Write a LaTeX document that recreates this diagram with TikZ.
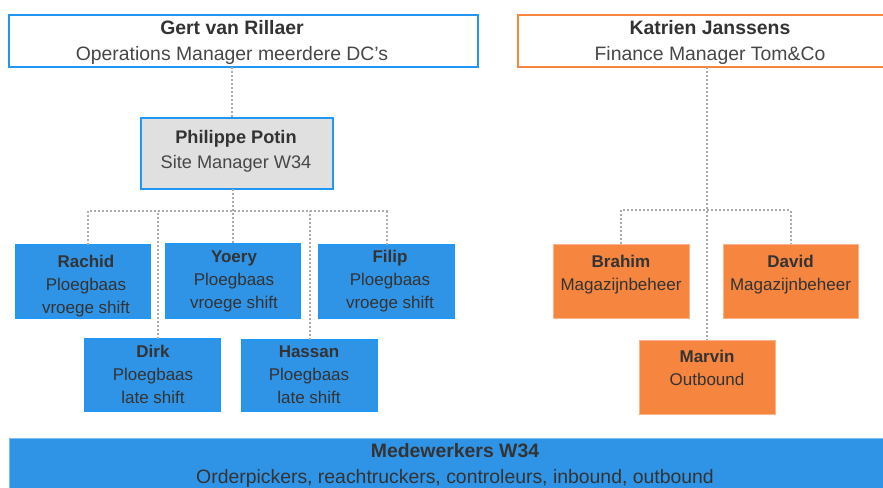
\documentclass[tikz,border=0pt]{standalone}
\usepackage{fontspec}
\setmainfont{Liberation Sans}

\definecolor{bluefill}{HTML}{3094E6}
\definecolor{blueline}{HTML}{2196F3}
\definecolor{orangefill}{HTML}{F5853F}
\definecolor{orangeedge}{HTML}{F9B48C}
\definecolor{greyfill}{HTML}{E0E0E0}
\definecolor{linkgrey}{HTML}{ABABAB}
\definecolor{ink}{HTML}{333333}
\definecolor{inksoft}{HTML}{474747}

\tikzset{
  card/.style={anchor=north west, inner sep=0pt, outer sep=0pt},
  headblue/.style={card, draw=blueline, line width=2pt, fill=white},
  headorange/.style={card, draw=orangefill, line width=2pt, fill=white},
  sitebox/.style={card, draw=blueline, line width=2pt, fill=greyfill},
  teambox/.style={card, draw=blueline, line width=1.2pt, fill=bluefill},
  stockbox/.style={card, draw=orangeedge, line width=0.8pt, fill=orangefill},
  staffbox/.style={card, draw=blueline!60!white, line width=1pt, fill=bluefill},
  link/.style={draw=linkgrey, line width=2pt, dash pattern=on 2pt off 2pt},
  % captions are placed by the baseline of their last line
  caption/.style={align=center, text=ink, inner sep=0pt, anchor=base},
  bigtext/.style={caption, font=\fontsize{19.4}{26}\selectfont},
  midtext/.style={caption, font=\fontsize{18.2}{25}\selectfont},
  smalltext/.style={caption, font=\fontsize{17}{23}\selectfont},
}

\begin{document}
\begin{tikzpicture}[x=1pt, y=-1pt]
\useasboundingbox (0,0) rectangle (883,487);

% management level
\node[headblue, minimum width=469, minimum height=52] (gert) at (9,15) {};
\node[bigtext] (gertText) at (232,61)
  {\bfseries Gert van Rillaer\\{\color{inksoft}Operations Manager meerdere DC’s}};

\node[headorange, minimum width=384, minimum height=52] (katrien) at (518,15) {};
\node[bigtext] (katrienText) at (710,61)
  {\bfseries Katrien Janssens\\{\color{inksoft}Finance Manager Tom\&Co}};

\node[sitebox, minimum width=192, minimum height=71] (philippe) at (141,118) {};
\node[midtext] (philippeText) at (236,168.3)
  {\bfseries Philippe Potin\\{\color{inksoft}Site Manager W34}};

% team leaders
\node[teambox, minimum width=134, minimum height=73] (rachid) at (16,245) {};
\node[smalltext] (rachidText) at (86,313) {\bfseries Rachid\\Ploegbaas\\vroege shift};

\node[teambox, minimum width=134, minimum height=74] (yoery) at (166,244) {};
\node[smalltext] (yoeryText) at (234,308) {\bfseries Yoery\\Ploegbaas\\vroege shift};

\node[teambox, minimum width=135, minimum height=73] (filip) at (319,245) {};
\node[smalltext] (filipText) at (390,308) {\bfseries Filip\\Ploegbaas\\vroege shift};

\node[teambox, minimum width=135, minimum height=72] (dirk) at (85,339) {};
\node[smalltext] (dirkText) at (153,403) {\bfseries Dirk\\Ploegbaas\\late shift};

\node[teambox, minimum width=135, minimum height=71] (hassan) at (242,340) {};
\node[smalltext] (hassanText) at (309,403) {\bfseries Hassan\\Ploegbaas\\late shift};

% warehouse management
\node[stockbox, minimum width=136, minimum height=74] (brahim) at (553,244) {};
\node[smalltext] (brahimText) at (621,290) {\bfseries Brahim\\Magazijnbeheer};

\node[stockbox, minimum width=135, minimum height=74] (david) at (723,244) {};
\node[smalltext] (davidText) at (790.5,290) {\bfseries David\\Magazijnbeheer};

\node[stockbox, minimum width=136, minimum height=74] (marvin) at (639,340) {};
\node[smalltext] (marvinText) at (707,385) {\bfseries Marvin\\Outbound};

% staff
\node[staffbox, minimum width=900, minimum height=70] (staff) at (9,438) {};
\node[bigtext] (staffText) at (455,483)
  {\bfseries Medewerkers W34\\Orderpickers, reachtruckers, controleurs, inbound, outbound};

% reporting lines
\coordinate (teambus) at (0,211);
\coordinate (stockbus) at (0,210);

\draw[link] (gert.south -| gertText) -- (philippe.north -| gertText);
\draw[link] (philippe.south -| yoery.north) -- (yoery.north);
\draw[link] ([xshift=5pt]rachid.north) |- (filip.north |- teambus) -- (filip.north);
\draw[link] ([xshift=5.5pt]dirk.north) -- ([xshift=5.5pt]dirk.north |- teambus);
\draw[link] (hassan.north) -- (hassan.north |- teambus);

\draw[link] (katrien.south -| marvin.north) -- (marvin.north);
\draw[link] (brahim.north) |- (david.north |- stockbus) -- (david.north);
\end{tikzpicture}
\end{document}
